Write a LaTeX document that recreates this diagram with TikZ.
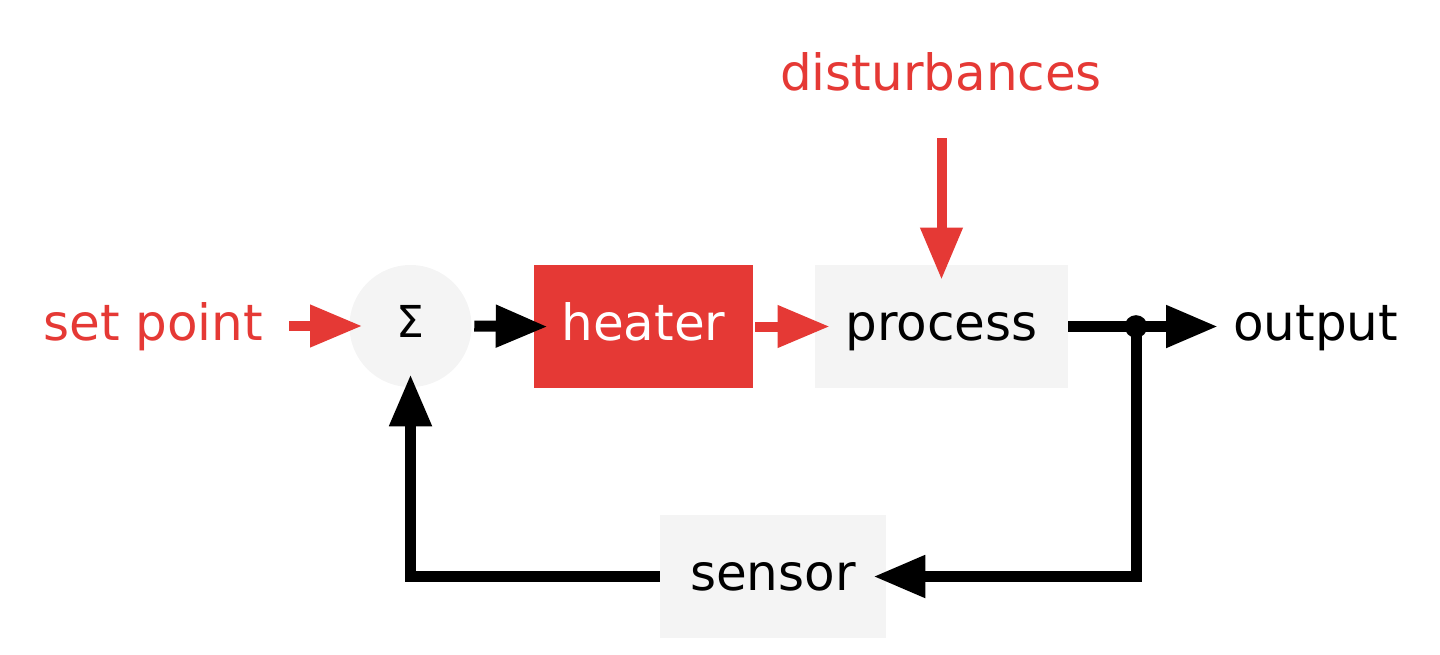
\documentclass[tikz,border=0pt]{standalone}
\usepackage{fontspec}
\setmainfont{DejaVu Sans}
\usetikzlibrary{arrows.meta,calc}
\definecolor{myred}{RGB}{229,57,53}
\definecolor{mygray}{RGB}{244,244,244}
\begin{document}
\begin{tikzpicture}[x=0.75pt,y=-0.75pt,
  box/.style={rectangle, fill=mygray, inner sep=0pt, text height=20.25pt, text depth=0pt, font=\fontsize{37.5}{40}\selectfont},
  lbl/.style={inner sep=0pt, font=\fontsize{37.5}{40}\selectfont},
  redarrow/.style={draw=myred, line width=7.5pt, -{Triangle[length=39pt,width=30pt]}},
  blackarrow/.style={draw=black, line width=8.25pt, line join=miter, -{Triangle[length=39pt,width=30pt]}},
]
\useasboundingbox (0,0) rectangle (1440,654);
% blocks
\node[circle, fill=mygray, minimum size=91.5pt, inner sep=0pt, text height=17pt, text depth=0pt, font=\fontsize{33}{35}\selectfont] (sum) at (410.5,326) {Σ};
\node[box, fill=myred, text=white, minimum width=164.25pt, minimum height=92.25pt] (heater) at (643.5,326.5) {heater};
\node[box, minimum width=189.75pt, minimum height=92.25pt] (process) at (941.5,326.5) {process};
\node[box, minimum width=169.5pt, minimum height=92.25pt] (sensor) at (773,576.5) {sensor};
% labels
\node[lbl, text=myred, anchor=base west] (sp) at (43,340) {set point};
\node[lbl, text=myred, anchor=base] (dist) at (941,90) {disturbances};
\node[lbl, anchor=base west] (out) at (1233,340) {output};
% free ends
\coordinate (spstart) at (289,326);
\coordinate (dstart) at (941.5,138);
% connectors
\draw[redarrow, shorten >=-9.75pt] (spstart) -- (sum.west);
\draw[blackarrow, shorten >=-10.5pt] ($(sum.east)+(2.5,0)$) -- (heater.west);
\draw[redarrow, shorten >=-11.25pt] ($(heater.east)+(2,0)$) -- (process.west);
\draw[redarrow, shorten >=-11.25pt] (dstart) -- (process.north);
\draw[blackarrow, shorten >=11.25pt] (process.east) -- (process.east -| out.west);
\coordinate (tap) at (1136,326.5);
\draw[blackarrow, shorten >=-9.75pt] (tap) |- (sensor.east);
\draw[blackarrow, shorten >=-9.75pt] (sensor.west) -| (sum.south);
\node[circle, fill=black, inner sep=0pt, minimum size=17pt] (dot) at (tap) {};
\end{tikzpicture}
\end{document}
